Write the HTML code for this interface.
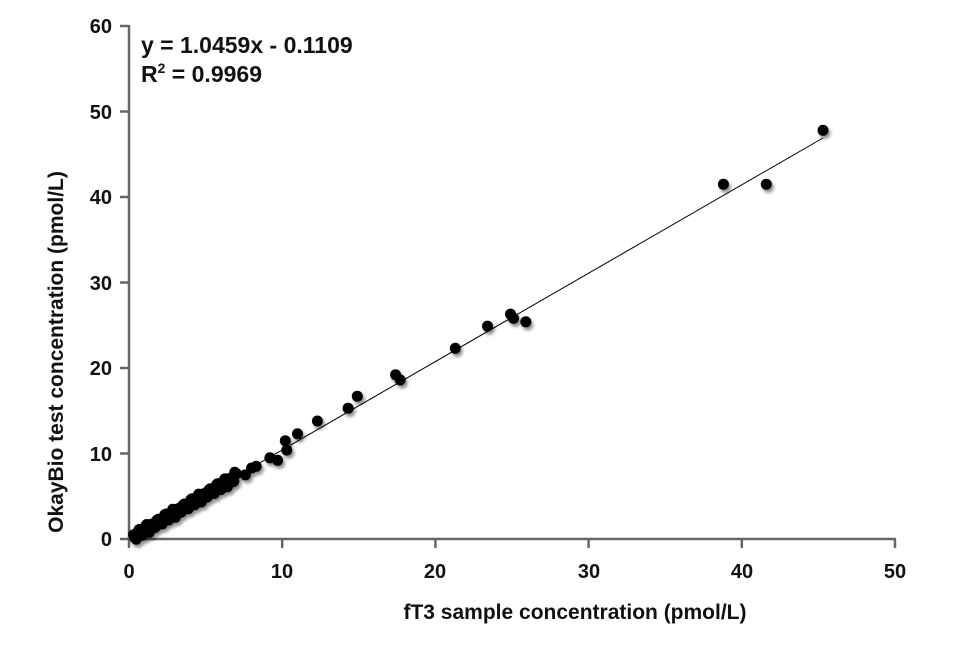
<!DOCTYPE html>
<html><head><style>
body{margin:0;background:#fff;}
svg text{font-family:"Liberation Sans",sans-serif;font-weight:bold;}
</style></head><body>
<svg id="s" width="964" height="640" xmlns="http://www.w3.org/2000/svg">
<defs><filter id="sh" x="-50%" y="-50%" width="200%" height="200%"><feGaussianBlur in="SourceAlpha" stdDeviation="1.5"/><feOffset dx="2" dy="3" result="b"/><feComponentTransfer><feFuncA type="linear" slope="0.45"/></feComponentTransfer><feMerge><feMergeNode/><feMergeNode in="SourceGraphic"/></feMerge></filter></defs>
<g stroke="#666" stroke-width="2.5" fill="none">
<line x1="129" y1="25" x2="129" y2="540"/>
<line x1="128" y1="539" x2="896" y2="539"/>
<line x1="120" y1="539" x2="129" y2="539"/><line x1="120" y1="453.5" x2="129" y2="453.5"/><line x1="120" y1="368" x2="129" y2="368"/><line x1="120" y1="282.5" x2="129" y2="282.5"/><line x1="120" y1="197" x2="129" y2="197"/><line x1="120" y1="111.5" x2="129" y2="111.5"/><line x1="120" y1="26" x2="129" y2="26"/>
<line x1="129" y1="539" x2="129" y2="548"/><line x1="282.2" y1="539" x2="282.2" y2="548"/><line x1="435.4" y1="539" x2="435.4" y2="548"/><line x1="588.6" y1="539" x2="588.6" y2="548"/><line x1="741.8" y1="539" x2="741.8" y2="548"/><line x1="895" y1="539" x2="895" y2="548"/>
</g>
<line x1="133" y1="536" x2="823" y2="138" stroke="#000" stroke-width="1"/>
<g font-size="20" fill="#111" text-anchor="end">
<text x="112" y="546">0</text><text x="112" y="461">10</text><text x="112" y="375">20</text><text x="112" y="290">30</text><text x="112" y="204">40</text><text x="112" y="119">50</text><text x="112" y="33">60</text>
</g>
<g font-size="20" fill="#111" text-anchor="middle">
<text x="129" y="578">0</text><text x="282" y="578">10</text><text x="435" y="578">20</text><text x="589" y="578">30</text><text x="742" y="578">40</text><text x="895" y="578">50</text>
</g>
<text x="575" y="619" font-size="21" fill="#111" text-anchor="middle">fT3 sample concentration (pmol/L)</text>
<text transform="translate(63,352) rotate(-90)" font-size="21" fill="#111" text-anchor="middle">OkayBio test concentration (pmol/L)</text>
<text x="141" y="53" font-size="23" fill="#111">y = 1.0459x - 0.1109</text>
<text x="141" y="82" font-size="23" fill="#111">R<tspan font-size="14" dy="-9">2</tspan><tspan dy="9"> = 0.9969</tspan></text>
<g id="pts" filter="url(#sh)" fill="#000"></g>
</svg>
<script>
var P=[[45.3,47.8],[38.8,41.5],[41.6,41.5],[24.9,26.3],[25.1,25.8],[23.4,24.9],[25.9,25.4],[21.3,22.3],[17.4,19.2],[17.7,18.6],[14.9,16.7],[14.3,15.3],[12.3,13.8],[11.0,12.3],[10.2,11.5],[10.3,10.4],[9.2,9.5],[9.7,9.2],[8.3,8.5],[7.6,7.5],[6.9,7.8],[8.0,8.3]];
var r=[0.3,-0.4,0.5,-0.2,0.1,0.6,-0.5,0.2,-0.3,0.4];
for(var i=0;i<40;i++){var x=0.3+i*0.17;P.push([x,1.046*x-0.11+r[i%10]]);P.push([x+0.08,1.046*x+r[(i+3)%10]*0.8]);}
var g=document.getElementById('pts'),h='';
P.forEach(function(p){h+='<circle cx="'+(129+p[0]*15.32).toFixed(1)+'" cy="'+(539-p[1]*8.55).toFixed(1)+'" r="5.5"/>';});
g.innerHTML=h;
</script>
</body></html>
